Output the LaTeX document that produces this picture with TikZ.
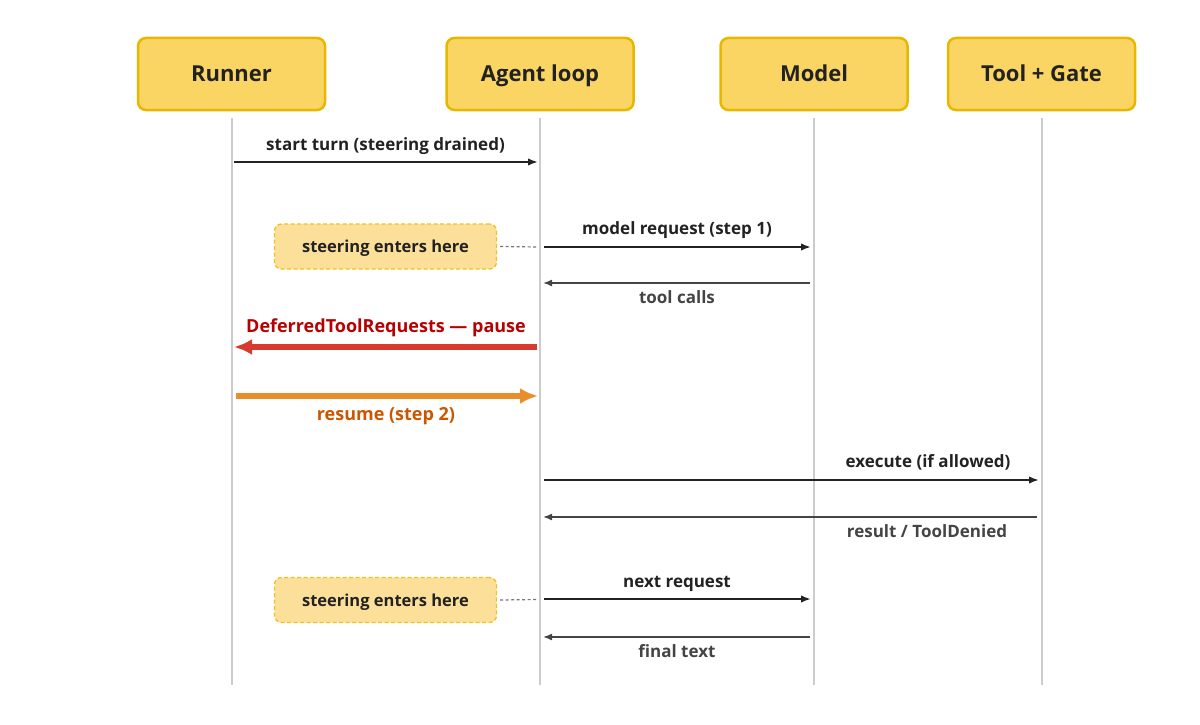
\documentclass[tikz,border=0pt]{standalone}
\usepackage{fontspec}
\setmainfont{Open Sans}
\usetikzlibrary{arrows.meta}
\definecolor{hdrfill}{HTML}{FAD564}
\definecolor{hdrdraw}{HTML}{E8B800}
\definecolor{notefill}{HTML}{FCE09A}
\definecolor{notedraw}{HTML}{F0C020}
\definecolor{life}{HTML}{CCCCCC}
\definecolor{ink}{HTML}{222222}
\definecolor{reply}{HTML}{444444}
\definecolor{redarrow}{HTML}{D93A2E}
\definecolor{redtext}{HTML}{B80000}
\definecolor{orarrow}{HTML}{E88E2A}
\definecolor{ortext}{HTML}{CC5500}
\definecolor{dots}{HTML}{777777}
\begin{document}
\begin{tikzpicture}[x=1pt,y=-1pt,
  header/.style={draw=hdrdraw, fill=hdrfill, line width=2.5pt, rounded corners=8pt,
    minimum width=187pt, minimum height=72pt, inner sep=0pt,
    text height=15.5pt, text depth=0pt,
    font=\fontsize{22}{26}\selectfont\bfseries, text=ink},
  note/.style={draw=notedraw, fill=notefill, line width=1.3pt, dash pattern=on 4pt off 2.5pt,
    rounded corners=7pt, minimum width=222pt, minimum height=45pt, inner sep=0pt,
    text height=12.5pt, text depth=0pt,
    font=\fontsize{16.5}{20}\selectfont\bfseries, text=ink},
  lifeline/.style={draw=life, line width=2pt},
  msg/.style={draw=ink, line width=2pt, -{Latex[length=10pt,width=7.5pt]}},
  ret/.style={draw=reply, line width=1.6pt, -{Latex[length=9pt,width=7pt]}},
  bigred/.style={draw=redarrow, line width=5.5pt, -{Latex[length=18pt,width=16pt]}},
  bigor/.style={draw=orarrow, line width=5.5pt, -{Latex[length=18pt,width=16pt]}},
  link/.style={draw=dots, line width=1.2pt, dash pattern=on 3pt off 2.5pt},
  lbl/.style={font=\fontsize{17}{20}\selectfont\bfseries, text=ink, inner sep=0pt,
    text height=12.5pt, text depth=0pt},
  biglbl/.style={lbl, font=\fontsize{18}{21}\selectfont\bfseries, text height=13pt},
  rlbl/.style={lbl, text=reply},
]
\useasboundingbox (0,0) rectangle (1200,725);

% headers
\node[header] (runner) at (231.5,74) {Runner};
\node[header] (agent)  at (540,74)   {Agent loop};
\node[header] (model)  at (814,74)   {Model};
\node[header] (tool)   at (1041.5,74){Tool + Gate};

% lifelines
\coordinate (rb) at (231.5,685);
\coordinate (ab) at (540,685);
\coordinate (mb) at (814,685);
\coordinate (tb) at (1041.5,685);
\draw[lifeline] ([yshift=-7pt]runner.south) -- (rb);
\draw[lifeline] ([yshift=-7pt]agent.south) -- (ab);
\draw[lifeline] ([yshift=-7pt]model.south) -- (mb);
\draw[lifeline] ([yshift=-7pt]tool.south) -- (tb);

% 1 start turn
\coordinate (s1a) at (234,162);
\coordinate (s1b) at (538,162);
\draw[msg] (s1a) -- (s1b);
\node[lbl] (l1) at (385.5,144.5) {start turn (steering drained)};

% 2 model request
\coordinate (s2a) at (544,247);
\coordinate (s2b) at (811,247);
\draw[msg] (s2a) -- (s2b);
\node[lbl] (l2) at (677,228.5) {model request (step 1)};

% note 1
\node[note] (n1) at (385.5,246.5) {steering enters here};
\coordinate (n1c) at (538,247);
\draw[link] ([xshift=3pt]n1.east) -- (n1c);

% 3 tool calls
\coordinate (s3a) at (810,283);
\coordinate (s3b) at (543,283);
\draw[ret] (s3a) -- (s3b);
\node[rlbl] (l3) at (677,297) {tool calls};

% 4 deferred
\coordinate (s4a) at (537,347);
\coordinate (s4b) at (234,347);
\draw[bigred] (s4a) -- (s4b);
\node[biglbl, text=redtext] (l4) at (386,326) {DeferredToolRequests — pause};

% 5 resume
\coordinate (s5a) at (236,396);
\coordinate (s5b) at (538,396);
\draw[bigor] (s5a) -- (s5b);
\node[biglbl, text=ortext] (l5) at (386,413.5) {resume (step 2)};

% 6 execute
\coordinate (s6a) at (544,480);
\coordinate (s6b) at (1039,480);
\draw[msg] (s6a) -- (s6b);
\node[lbl] (l6) at (928,461.5) {execute (if allowed)};

% 7 result
\coordinate (s7a) at (1037,517);
\coordinate (s7b) at (543,517);
\draw[ret] (s7a) -- (s7b);
\node[rlbl] (l7) at (927,531.5) {result / ToolDenied};

% 8 next request
\coordinate (s8a) at (544,599);
\coordinate (s8b) at (811,599);
\draw[msg] (s8a) -- (s8b);
\node[lbl] (l8) at (677,581.5) {next request};

% note 2
\node[note] (n2) at (385.5,600) {steering enters here};
\coordinate (n2c) at (538,599.5);
\draw[link] ([xshift=3pt]n2.east) -- (n2c);

% 9 final text
\coordinate (s9a) at (810,637);
\coordinate (s9b) at (543,637);
\draw[ret] (s9a) -- (s9b);
\node[rlbl] (l9) at (677,651.5) {final text};
\end{tikzpicture}
\end{document}
